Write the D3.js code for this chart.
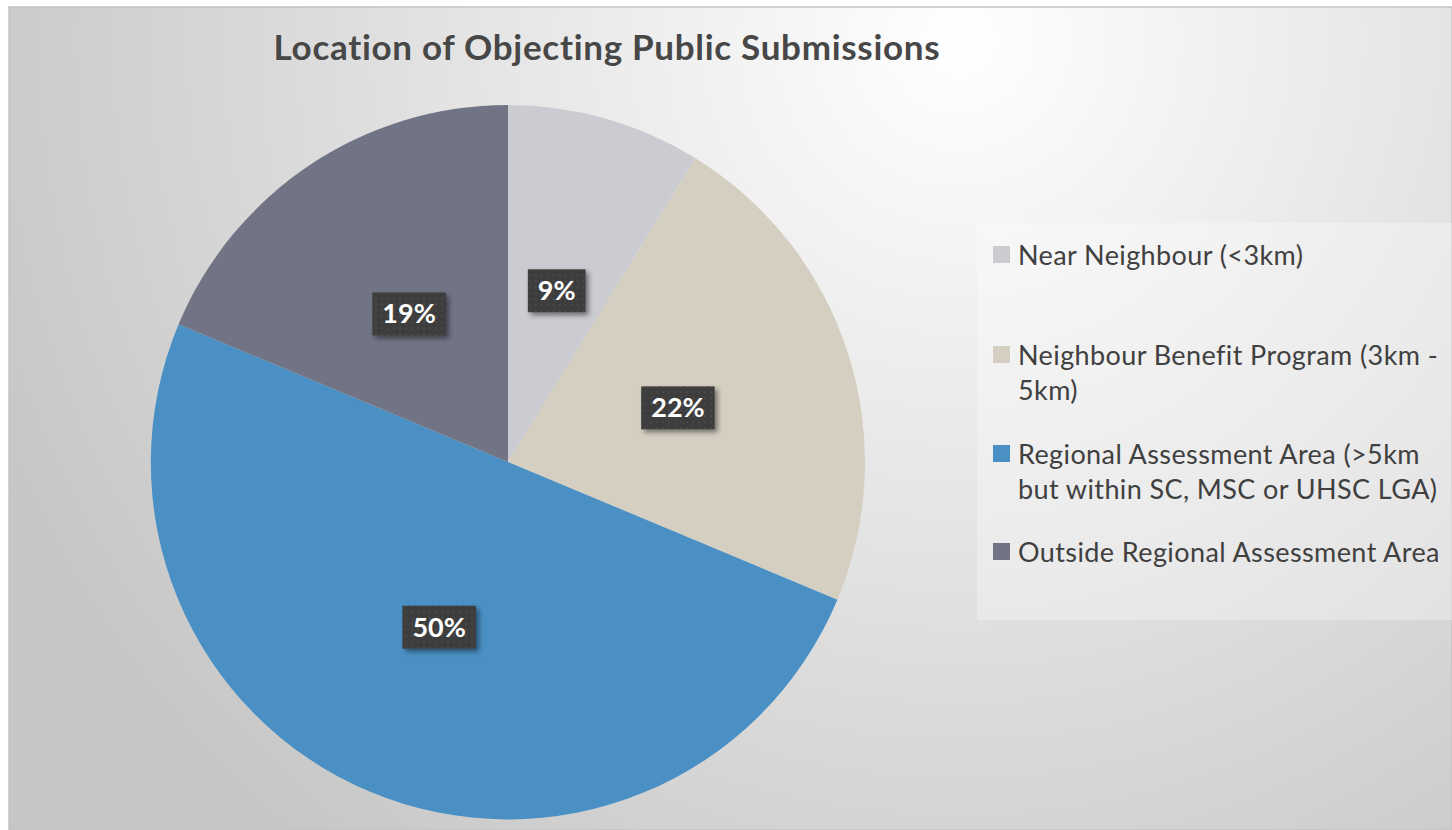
<!DOCTYPE html>
<html>
<head>
<meta charset="utf-8">
<script src="https://d3js.org/d3.v7.min.js"></script>
<title>Location of Objecting Public Submissions</title>
<style>
  body { margin: 0; background: #fff; }
  text { font-family: Lato, "Open Sans", sans-serif; }
</style>
</head>
<body>
<svg id="chart" width="1452" height="830"></svg>
<script>
// data
const categories = [
  "Near Neighbour (<3km)",
  "Neighbour Benefit Program (3km - 5km)",
  "Regional Assessment Area (>5km but within SC, MSC or UHSC LGA)",
  "Outside Regional Assessment Area"
];
const legendLines = [
  ["Near Neighbour (<3km)"],
  ["Neighbour Benefit Program (3km -", "5km)"],
  ["Regional Assessment Area (>5km", "but within SC, MSC or UHSC LGA)"],
  ["Outside Regional Assessment Area"]
];
const values = [8.8, 22.5, 50.0, 18.7];
const labels = ["9%", "22%", "50%", "19%"];
const colors = ["#cbccd1", "#d5cfc2", "#4a90c5", "#717484"];

const svg = d3.select("#chart");
const defs = svg.append("defs");

// background
const bg = defs.append("radialGradient").attr("id", "bg")
  .attr("gradientUnits", "userSpaceOnUse")
  .attr("cx", 960).attr("cy", 40).attr("r", 1050);
bg.append("stop").attr("offset", "0%").attr("stop-color", "#ffffff");
bg.append("stop").attr("offset", "35%").attr("stop-color", "#ebebeb");
bg.append("stop").attr("offset", "100%").attr("stop-color", "#c6c6c6");

const pat = defs.append("pattern").attr("id", "dots")
  .attr("patternUnits", "userSpaceOnUse").attr("width", 6).attr("height", 6);
pat.append("rect").attr("width", 6).attr("height", 6).attr("fill", "#3c3c3c");
pat.append("rect").attr("x", 2).attr("y", 2).attr("width", 2).attr("height", 2).attr("fill", "#4a4a4a");

const sh = defs.append("filter").attr("id", "shadow")
  .attr("x", "-20%").attr("y", "-20%").attr("width", "150%").attr("height", "160%");
sh.append("feDropShadow").attr("dx", 3).attr("dy", 3).attr("stdDeviation", 2.5)
  .attr("flood-color", "#000").attr("flood-opacity", 0.45);

svg.append("rect")
  .attr("x", 9).attr("y", 7).attr("width", 1443).attr("height", 823)
  .attr("fill", "url(#bg)")
  .attr("stroke", "#c4c4c4").attr("stroke-width", 1.5);

// title
svg.append("text")
  .attr("x", 607).attr("y", 60)
  .attr("text-anchor", "middle")
  .attr("font-size", 35).attr("font-weight", "bold")
  .attr("letter-spacing", 0.7)
  .attr("fill", "#474747")
  .text("Location of Objecting Public Submissions");

// pie
const cx = 508, cy = 462, radius = 357;
const pie = d3.pie().sort(null).value(d => d);
const arc = d3.arc().innerRadius(0).outerRadius(radius);
const arcs = pie(values);

const g = svg.append("g").attr("transform", `translate(${cx},${cy})`);
g.selectAll("path").data(arcs).join("path")
  .attr("d", arc)
  .attr("fill", (d, i) => colors[i]);

const lab = g.selectAll("g.lab").data(arcs).join("g")
  .attr("class", "lab")
  .attr("transform", d => `translate(${arc.centroid(d)})`);
const box = lab.append("rect")
  .attr("fill", "url(#dots)")
  .attr("filter", "url(#shadow)");
const txt = lab.append("text")
  .attr("text-anchor", "middle")
  .attr("dy", 10)
  .attr("font-size", 27).attr("font-weight", "bold")
  .attr("fill", "#ffffff")
  .text((d, i) => labels[i]);
txt.each(function(d, i) {
  const w = this.getBBox().width;
  d3.select(box.nodes()[i])
    .attr("x", -w / 2 - 10).attr("y", -21)
    .attr("width", w + 20).attr("height", 43);
});

// legend
svg.append("rect")
  .attr("x", 977).attr("y", 223).attr("width", 475).attr("height", 397)
  .attr("fill", "#ffffff").attr("fill-opacity", 0.3);

const legendY = [265, 365, 464, 562];
const lg = svg.append("g");
categories.forEach((c, i) => {
  const item = lg.append("g").attr("transform", `translate(993,${legendY[i]})`);
  item.append("rect")
    .attr("x", 0).attr("y", -19).attr("width", 17).attr("height", 17)
    .attr("fill", colors[i]);
  item.append("text")
    .attr("x", 25).attr("y", 0)
    .attr("font-size", 27).attr("letter-spacing", 0.4).attr("fill", "#404040")
    .selectAll("tspan").data(legendLines[i]).join("tspan")
    .attr("x", 25).attr("dy", (d, j) => j === 0 ? 0 : 35)
    .text(d => d);
});
</script>
</body>
</html>
